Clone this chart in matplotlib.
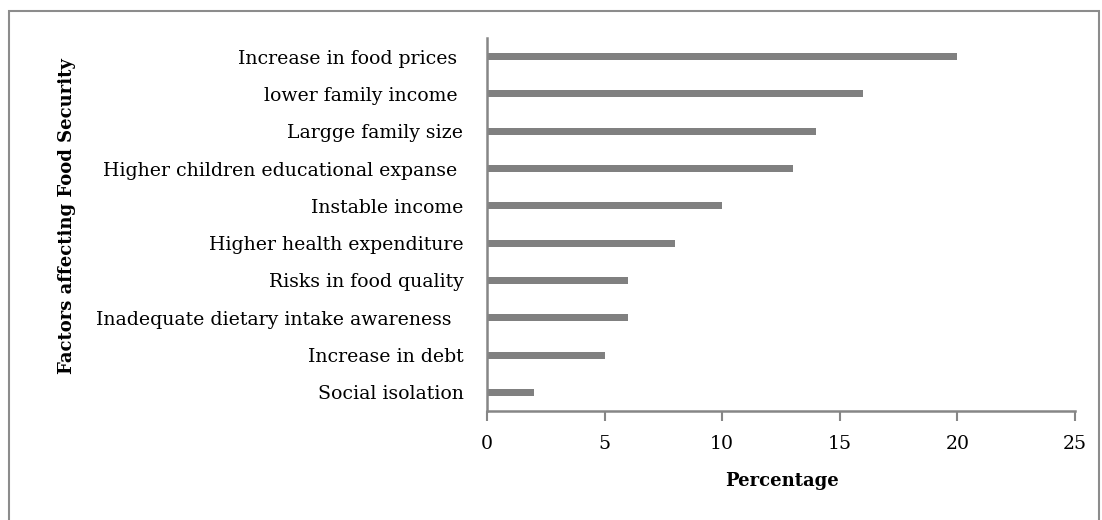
import matplotlib.pyplot as plt
from matplotlib.patches import Rectangle

# factors, bottom to top as drawn
factors = ["Social isolation", "Increase in debt", "Inadequate dietary intake awareness  ",
           "Risks in food quality", "Higher health expenditure", "Instable income",
           "Higher children educational expanse ", "Largge family size",
           "lower family income ", "Increase in food prices "]
percent = [2, 5, 6, 6, 8, 10, 13, 14, 16, 20]
xticks = [0, 5, 10, 15, 20, 25]

plt.rcParams['font.family'] = ['DejaVu Serif']
W, H = 1102, 520
fig = plt.figure(figsize=(W / 100, H / 100), dpi=100)
ax = fig.add_axes([487 / W, 1 - 411 / H, (1075 - 487) / W, (411 - 38) / H])

grey = "#808080"
ax.barh(range(len(factors)), percent, height=0.19, color=grey)
ax.set_ylim(-0.5, len(factors) - 0.5)
ax.set_xlim(0, 25)
ax.set_xticks(xticks)
ax.set_yticks(range(len(factors)))
ax.set_yticklabels(factors, fontsize=13.6)
ax.tick_params(axis='x', labelsize=13.6, length=7, width=1.5, color="#868686", pad=10)
ax.tick_params(axis='y', length=0, pad=17)
for s in ["top", "right"]:
    ax.spines[s].set_visible(False)
for s in ["left", "bottom"]:
    ax.spines[s].set_color("#868686")
    ax.spines[s].set_linewidth(1.8)

fig.text(782 / W, 1 - 481 / H, "Percentage", ha="center", va="center",
         fontsize=13, fontweight="bold")
fig.text(67 / W, 1 - 216 / H, "Factors affecting Food Security", ha="center", va="center",
         rotation=90, fontsize=13, fontweight="bold")

# outer frame of the chart area
fig.patches.append(Rectangle((9 / W, -0.05), (1099 - 9) / W, 1.05 - 11 / H,
                             transform=fig.transFigure, fill=False,
                             edgecolor="#8c8c8c", linewidth=1.5))

fig.savefig("out.png", dpi=100)
